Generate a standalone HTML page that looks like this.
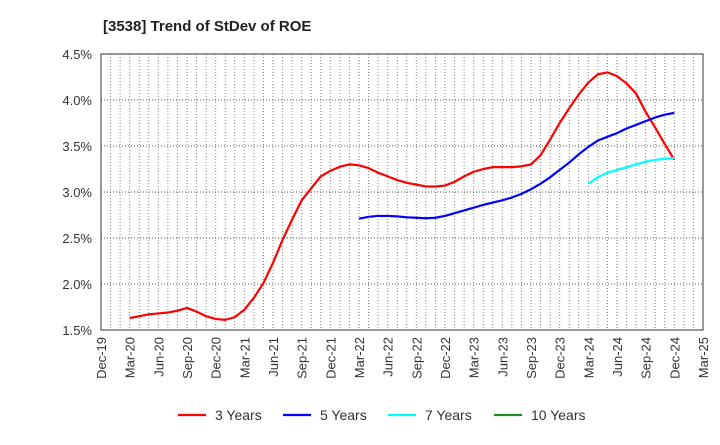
<!DOCTYPE html>
<html><head><meta charset="utf-8"><style>
body{margin:0;background:#fff;}
svg text{font-family:"Liberation Sans",Arial,sans-serif;fill:#333;}
</style></head><body>
<svg id="chart" width="720" height="440" xmlns="http://www.w3.org/2000/svg">
<text x="103" y="31" font-size="15" font-weight="bold" style="fill:#222">[3538]  Trend of StDev of ROE</text>
<g id="grid"></g>
<g id="series"></g>
<g id="axes"></g>
<g id="legend"></g>
</svg>
<script>
const xTickLabels=["Dec-19","Mar-20","Jun-20","Sep-20","Dec-20","Mar-21","Jun-21","Sep-21","Dec-21","Mar-22","Jun-22","Sep-22","Dec-22","Mar-23","Jun-23","Sep-23","Dec-23","Mar-24","Jun-24","Sep-24","Dec-24","Mar-25"];
const yTicks=[1.5,2.0,2.5,3.0,3.5,4.0,4.5];
const y3Start=3;
const y3=[1.63,1.65,1.67,1.68,1.69,1.71,1.74,1.70,1.65,1.62,1.61,1.64,1.72,1.85,2.01,2.23,2.48,2.70,2.91,3.04,3.17,3.23,3.275,3.30,3.29,3.26,3.21,3.17,3.13,3.10,3.08,3.06,3.06,3.07,3.11,3.17,3.22,3.25,3.27,3.27,3.27,3.28,3.30,3.40,3.57,3.75,3.91,4.06,4.19,4.28,4.30,4.26,4.18,4.07,3.87,3.70,3.52,3.35];
const y5Start=27;
const y5=[2.71,2.73,2.74,2.74,2.735,2.725,2.72,2.715,2.72,2.74,2.77,2.80,2.83,2.86,2.885,2.91,2.94,2.98,3.03,3.09,3.16,3.24,3.32,3.41,3.49,3.56,3.60,3.64,3.69,3.73,3.77,3.81,3.84,3.86];
const y7Start=51;
const y7=[3.09,3.16,3.21,3.24,3.27,3.30,3.33,3.35,3.36,3.37];
const y10Start=0;
const y10=[];
const L=101,R=703,T=54,B=330,NM=63;
const xs=m=>L+(R-L)*m/NM;
const ys=v=>B-(v-1.5)/3*(B-T);
const NS="http://www.w3.org/2000/svg";
function mk(tag,attrs,parent){const e=document.createElementNS(NS,tag);for(const k in attrs)e.setAttribute(k,attrs[k]);parent.appendChild(e);return e;}
const grid=document.getElementById('grid'),axes=document.getElementById('axes'),ser=document.getElementById('series'),leg=document.getElementById('legend');
for(let m=1;m<NM;m++){const l=mk('line',{x1:xs(m),x2:xs(m),y1:T,y2:B,stroke:'#888','stroke-width':1,'stroke-dasharray':'1,2'},grid);

}
yTicks.forEach(v=>{if(v>1.5&&v<4.5){const l=mk('line',{x1:L,x2:R,y1:ys(v),y2:ys(v),stroke:'#555','stroke-width':1,'stroke-dasharray':'1,2'},grid);

}
const t=mk('text',{x:92,y:ys(v)+5,'text-anchor':'end','font-size':13},axes);t.textContent=v.toFixed(1)+'%';

});
const fr=mk('rect',{x:L,y:T,width:R-L,height:B-T,fill:'none',stroke:'#333','stroke-width':1},axes);


xTickLabels.forEach((s,i)=>{const x=xs(i*3);const t=mk('text',{x:0,y:0,'text-anchor':'end','font-size':13,transform:`translate(${x+5},${B+7}) rotate(-90)`},axes);t.textContent=s;

});
function line(vals,start,color,name){if(!vals.length)return;const p=mk('polyline',{points:vals.map((v,i)=>xs(start+i)+','+ys(v)).join(' '),fill:'none',stroke:color,'stroke-width':2.2,'stroke-linejoin':'round'},ser);

}
line(y3,y3Start,'#ff0000','series-3-years');
line(y5,y5Start,'#0000ff','series-5-years');
line(y7,y7Start,'#00ffff','series-7-years');
line(y10,y10Start,'#228b22','series-10-years');
[['3 Years','#ff0000',178],['5 Years','#0000ff',283],['7 Years','#00ffff',388],['10 Years','#228b22',494]].forEach(([n,c,x])=>{
const g=mk('g',{},leg);


mk('line',{x1:x,x2:x+28,y1:415,y2:415,stroke:c,'stroke-width':2.2},g);
const t=mk('text',{x:x+37,y:420,'font-size':14},g);t.textContent=n;});
</script>
</body></html>
